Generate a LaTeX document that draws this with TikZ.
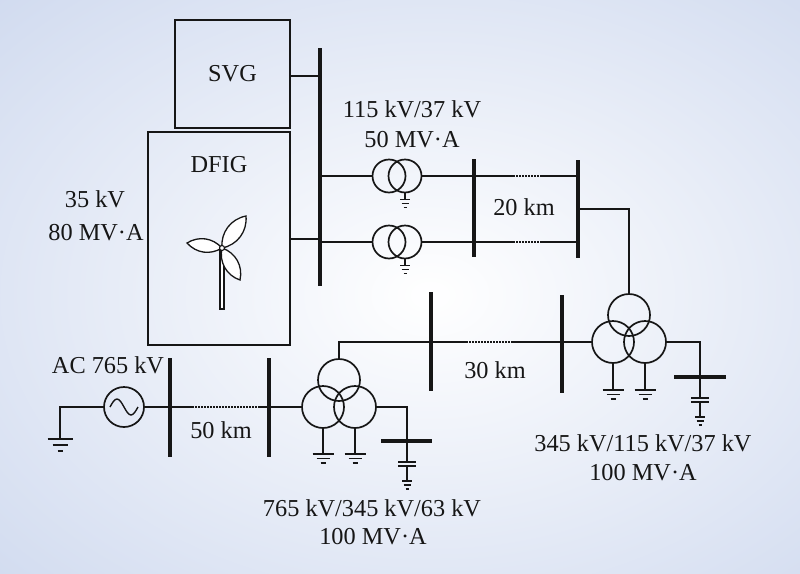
\documentclass[tikz,border=0pt]{standalone}
\usepackage{fontspec}
\setmainfont{Liberation Serif}
\definecolor{bgc}{RGB}{190,204,233}
\definecolor{ink}{RGB}{22,22,22}
\begin{document}
\begin{tikzpicture}[x=1pt,y=-1pt,
  line/.style={line width=1.4pt,draw=ink},
  bus/.style={line width=3.3pt,draw=ink},
  cbus/.style={line width=3.8pt,draw=ink},
  plate/.style={line width=2.2pt,draw=ink},
  dots/.style={line width=1.4pt,draw=ink,dash pattern=on 1.5pt off 1.5pt},
  box/.style={draw=ink,line width=1.3pt,inner sep=0pt},
  tcirc/.style={circle,draw=ink,line width=1.7pt,inner sep=0pt},
  lbl/.style={font=\fontsize{24.3}{28}\selectfont,text=ink,inner sep=0pt,anchor=base},
  wind/.style={line width=1.3pt,draw=ink,fill=white},
  biggnd/.pic={\draw[line width=1.4pt,draw=ink] (-10.5,0)--(10.5,0) (-6.5,4.5)--(6.5,4.5) (-2.5,9)--(2.5,9);},
  smallgnd/.pic={\draw[line width=1.2pt,draw=ink] (-5,0)--(5,0) (-3.5,4)--(3.5,4) (-1.5,8)--(1.5,8);},
  srcgnd/.pic={\draw[line width=1.4pt,draw=ink] (-12.5,0)--(12.5,0) (-7.5,6)--(7.5,6) (-2.5,12)--(2.5,12);}
]
\useasboundingbox (0,0) rectangle (800,573);
\begin{scope}
  \clip (0,0) rectangle (800,573);
  \shade[inner color=white,outer color=bgc] (430,295) ellipse (860pt and 600pt);
\end{scope}

% boxes
\node[box,minimum width=115pt,minimum height=108pt,font=\fontsize{24.3}{28}\selectfont,text=ink] (svg) at (232.5,74) {SVG};
\node[box,minimum width=142pt,minimum height=213pt] (dfig) at (219,238.5) {};

% buses
\coordinate (b1t) at (320,48);  \coordinate (b1b) at (320,286);
\coordinate (b2t) at (474,159); \coordinate (b2b) at (474,257);
\coordinate (b3t) at (578,160); \coordinate (b3b) at (578,258);
\coordinate (b4t) at (562,295); \coordinate (b4b) at (562,393);
\coordinate (b5t) at (431,292); \coordinate (b5b) at (431,391);
\coordinate (b6t) at (170,358); \coordinate (b6b) at (170,457);
\coordinate (b7t) at (269,358); \coordinate (b7b) at (269,457);
\foreach \a in {1,...,7} {\draw[bus] (b\a t)--(b\a b);}

% SVG / DFIG to bus 1
\draw[line] (svg.east |- 0,76) -- (b1t |- 0,76);
\draw[line] (dfig.east |- 0,239) -- (b1t |- 0,239);

% two-winding transformers
\node[tcirc,minimum size=33pt] (tal) at (389,176) {};
\node[tcirc,minimum size=33pt] (tar) at (405,176) {};
\node[tcirc,minimum size=33pt] (tbl) at (389,242) {};
\node[tcirc,minimum size=33pt] (tbr) at (405,242) {};
\draw[line] (b1t |- tal.west) -- (tal.west);
\draw[line] (b1t |- tbl.west) -- (tbl.west);
\draw[line] (tar.east) -- (513,176); \draw[dots] (513,176) -- (541,176); \draw[line] (541,176) -- (b3t |- tar.east);
\draw[line] (tbr.east) -- (513,242); \draw[dots] (513,242) -- (541,242); \draw[line] (541,242) -- (b3t |- tbr.east);
\draw[line] (tar.south) -- ++(0,6.5) pic{smallgnd};
\draw[line] (tbr.south) -- ++(0,6.5) pic{smallgnd};

% three-winding transformer 345/115/37
\node[tcirc,minimum size=42pt] (t3t) at (629,315) {};
\node[tcirc,minimum size=42pt] (t3l) at (613,342) {};
\node[tcirc,minimum size=42pt] (t3r) at (645,342) {};
\draw[line] (b3t |- 0,209) -- (t3t |- 0,209) -- (t3t.north);
\draw[line] (t3l.south) -- (613,390) pic{biggnd};
\draw[line] (t3r.south) -- (645,390) pic{biggnd};
\coordinate (c3) at (700,377);
\draw[line] (t3r.east) -- (c3 |- t3r.east) -- (c3) -- (700,398);
\draw[cbus] (674,377) -- (726,377);
\draw[plate] (691,398) -- (709,398) (691,402) -- (709,402);
\draw[line] (700,402) -- (700,417) pic{smallgnd};

% three-winding transformer 765/345/63
\node[tcirc,minimum size=42pt] (t2t) at (339,380) {};
\node[tcirc,minimum size=42pt] (t2l) at (323,407) {};
\node[tcirc,minimum size=42pt] (t2r) at (355,407) {};
\draw[line] (t2t.north) -- (t2t |- 0,342) -- (466,342);
\draw[dots] (466,342) -- (511,342);
\draw[line] (511,342) -- (t3l.west);
\draw[line] (t2l.south) -- (323,454) pic{biggnd};
\draw[line] (t2r.south) -- (355,454) pic{biggnd};
\coordinate (c2) at (407,441);
\draw[line] (t2r.east) -- (c2 |- t2r.east) -- (c2) -- (407,462);
\draw[cbus] (381,441) -- (432,441);
\draw[plate] (398,462) -- (416,462) (398,466) -- (416,466);
\draw[line] (407,466) -- (407,481) pic{smallgnd};

% AC source
\node[tcirc,minimum size=40pt] (ac) at (124,407) {};
\draw[line width=1.4pt,draw=ink] (ac.center) ++(-14,0) sin ++(7,-8) cos ++(7,8) sin ++(7,8) cos ++(7,-8);
\draw[line] (ac.west) -- (60,407) -- (60,439) pic{srcgnd};
\draw[line] (ac.east) -- (192,407);
\draw[dots] (192,407) -- (260,407);
\draw[line] (260,407) -- (t2l.west);

% wind turbine
\coordinate (hub) at (222,248);
\draw[line width=1.1pt,draw=ink,fill=white] (220,250) rectangle (224,309);
\draw[wind] (hub) to[bend left=40] (187,243) to[bend left=40] (hub);
\draw[wind] (hub) to[bend left=42] (246,216) to[bend left=42] (hub);
\draw[wind] (hub) to[bend left=42] (240,280) to[bend left=42] (hub);
\draw[line width=1.1pt,draw=ink,fill=white] (hub) circle (2.5pt);

% labels
\node[lbl] (l35) at (95,207) {35 kV};
\node[lbl] (l80) at (96,240) {80 MV·A};
\node[lbl] (ldfig) at (219,172) {DFIG};
\node[lbl] (lt1) at (412,117) {115 kV/37 kV};
\node[lbl] (lt1b) at (412,147) {50 MV·A};
\node[lbl] (l20) at (524,215) {20 km};
\node[lbl] (l30) at (495,378) {30 km};
\node[lbl] (l50) at (221,438) {50 km};
\node[lbl] (lac) at (108,373) {AC 765 kV};
\node[lbl] (lt3) at (643,451) {345 kV/115 kV/37 kV};
\node[lbl] (lt3b) at (643,480) {100 MV·A};
\node[lbl] (lt2) at (372,516) {765 kV/345 kV/63 kV};
\node[lbl] (lt2b) at (373,544) {100 MV·A};
\end{tikzpicture}
\end{document}
